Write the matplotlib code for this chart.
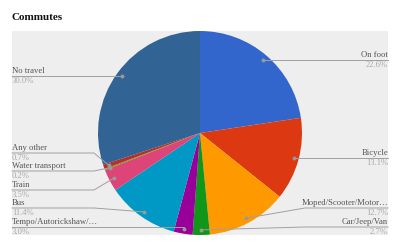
import matplotlib

matplotlib.use("Agg")
import matplotlib.pyplot as plt
import numpy as np
from matplotlib.patches import Rectangle

labels = [
    "On foot",
    "Bicycle",
    "Moped/Scooter/Motor\u2026",
    "Car/Jeep/Van",
    "Tempo/Autorickshaw/\u2026",
    "Bus",
    "Train",
    "Water transport",
    "Any other",
    "No travel",
]
shares = [22.6, 13.1, 12.7, 2.7, 3.0, 11.4, 3.5, 0.2, 0.7, 30.0]
colors = [
    "#3366CC", "#DC3912", "#FF9900", "#109618", "#990099",
    "#0099C6", "#DD4477", "#66AA00", "#B82E2E", "#316395",
]

# label line y (pixels from top) and side for each slice
label_y = [60, 158, 208, 227, 227, 208, 190, 171, 153, 76]
label_side = ["r", "r", "r", "r", "l", "l", "l", "l", "l", "l"]

plt.rcParams["font.family"] = ["Liberation Serif", "DejaVu Serif"]

W, H = 400, 248
fig = plt.figure(figsize=(W / 100, H / 100), dpi=100)
ax = fig.add_axes([0, 0, 1, 1])

cx, cy, R = 200, 133, 102
ax.add_patch(Rectangle((12, 31), 376, 204, facecolor="#EEEEEE", edgecolor="none", zorder=0))

# y axis inverted -> counterclock in data is clockwise on screen
ax.pie(shares, colors=colors, startangle=-90, counterclock=True,
       center=(cx, cy), radius=R, wedgeprops=dict(linewidth=0))

ax.set_xlim(0, W)
ax.set_ylim(H, 0)
ax.set_aspect("equal")
ax.axis("off")

total = sum(shares)
cum = 0.0
for name, v, ly, side in zip(labels, shares, label_y, label_side):
    mid = (cum + v / 2) / total * 2 * np.pi
    cum += v
    d = 0.95 * R
    px, py = cx + d * np.sin(mid), cy - d * np.cos(mid)
    if side == "r":
        xe, xt, ha = 305, 388, "right"
    else:
        xe, xt, ha = 94, 12, "left"
    if abs(py - ly) < 2:
        xs, ys = [px, xt], [ly, ly]
    else:
        xs, ys = [px, xe, xt], [py, ly, ly]
    ax.plot(xs, ys, color="#A0A0A0", lw=0.7, zorder=3)
    ax.plot(px, py, "o", color="#999999", ms=1.8, zorder=4)
    ax.text(xt, ly - 0.6, name, ha=ha, va="bottom", fontsize=6.2, color="#555555")
    ax.text(xt, ly + 0.6, "%.1f%%" % v, ha=ha, va="top", fontsize=6.2, color="#AAAAAA")

ax.text(12, 17, "Commutes", ha="left", va="center", fontsize=8,
        fontweight="bold", color="#111111")

fig.savefig("out.png", dpi=100)
